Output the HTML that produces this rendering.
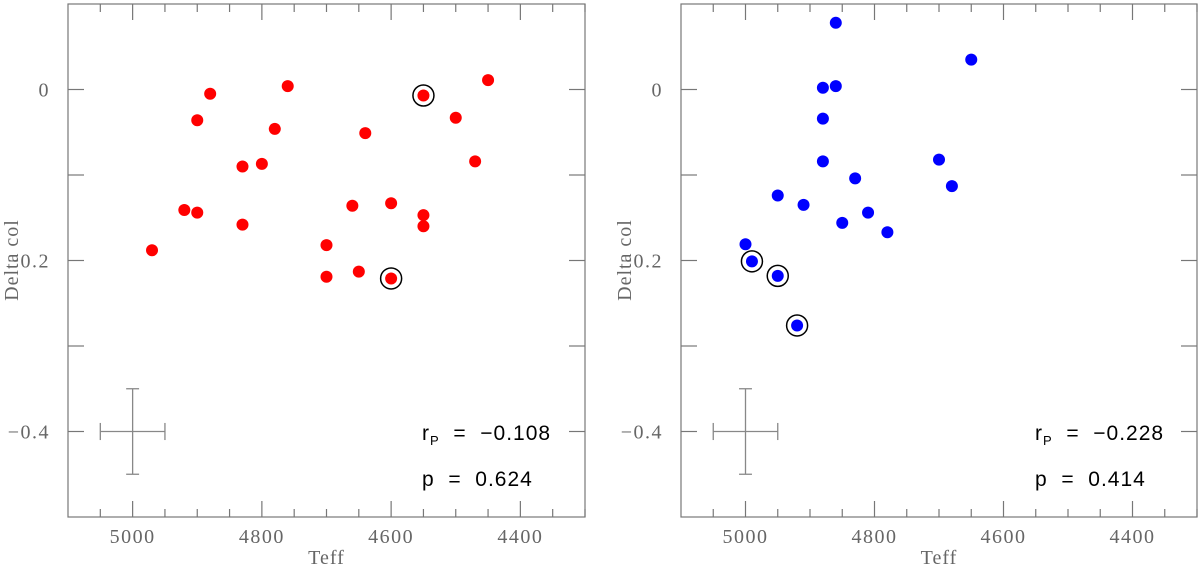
<!DOCTYPE html>
<html><head><meta charset="utf-8"><style>
body{margin:0;background:#fff}
svg text.serif{font-family:"Liberation Serif",serif}
svg text.sans{font-family:"Liberation Sans",sans-serif}
</style></head><body>
<svg id="c" width="1200" height="571" xmlns="http://www.w3.org/2000/svg"></svg>
<script>
const leftT=[4970,4920,4900,4900,4880,4830,4830,4800,4780,4760,4700,4700,4660,4650,4640,4600,4600,4550,4550,4550,4500,4470,4450];
const leftD=[-0.188,-0.141,-0.144,-0.036,-0.005,-0.090,-0.158,-0.087,-0.046,0.004,-0.182,-0.219,-0.136,-0.213,-0.051,-0.133,-0.221,-0.147,-0.160,-0.007,-0.033,-0.084,0.011];
const leftCircled=[16,19];
const rightT=[5000,4990,4950,4950,4920,4910,4880,4880,4880,4860,4860,4850,4830,4810,4780,4700,4680,4650];
const rightD=[-0.181,-0.201,-0.218,-0.124,-0.276,-0.135,0.002,-0.034,-0.084,0.078,0.004,-0.156,-0.104,-0.144,-0.167,-0.082,-0.113,0.035];
const rightCircled=[1,2,4];
const xTickLabels=[5000,4800,4600,4400];
const yTickLabels=[0,-0.2,-0.4];
const stats=[["−0.108","0.624"],["−0.228","0.414"]];
const NS="http://www.w3.org/2000/svg";
const svg=document.getElementById('c');
function mk(tag,attrs,parent){const e=document.createElementNS(NS,tag);for(const k in attrs)e.setAttribute(k,attrs[k]);(parent||svg).appendChild(e);return e;}
function panel(idx,x0,x1,T,D,circ,color){
  const y0=4,y1=517;
  const g=mk('g',{});
  
  
  const sx=t=>x0+(5100-t)/800*(x1-x0);
  const sy=d=>y0+(0.1-d)/0.6*(y1-y0);
  const fr=mk('rect',{x:x0,y:y0,width:x1-x0,height:y1-y0,fill:'none',stroke:'#777','stroke-width':1.2},g);
  
  
  for(let t=5050;t>=4300;t-=50){
    const X=sx(t);const L=(t%200===0)?16:8;
    mk('line',{x1:X,y1:y1,x2:X,y2:y1-L,stroke:'#777','stroke-width':1.2},g);
    mk('line',{x1:X,y1:y0,x2:X,y2:y0+L,stroke:'#777','stroke-width':1.2},g);
  }
  for(let k=1;k<=5;k++){
    const d=0.1-k*0.1;const Y=sy(d);
    mk('line',{x1:x0,y1:Y,x2:x0+16,y2:Y,stroke:'#777','stroke-width':1.2},g);
    mk('line',{x1:x1,y1:Y,x2:x1-16,y2:Y,stroke:'#777','stroke-width':1.2},g);
  }
  xTickLabels.forEach(t=>{const e=mk('text',{class:'serif',x:sx(t),y:y1+26,'text-anchor':'middle','font-size':20,'letter-spacing':1.5,fill:'#666'},g);e.textContent=t;
    });
  yTickLabels.forEach(d=>{const e=mk('text',{class:'serif',x:x0-18,y:sy(d)+7,'text-anchor':'end','font-size':20,'letter-spacing':1.5,fill:'#666'},g);e.textContent=d===0?'0':('−'+Math.abs(d));
    });
  const xl=mk('text',{class:'serif',x:(x0+x1)/2,y:564,'text-anchor':'middle','font-size':20,'letter-spacing':1,fill:'#666'},g);xl.textContent='Teff';
  
  const yl=mk('text',{class:'serif',x:0,y:0,'text-anchor':'middle','font-size':20,'letter-spacing':1,fill:'#666',transform:`translate(${x0-50},260) rotate(-90)`},g);yl.textContent='Delta col';
  
  const eg=mk('g',{stroke:'#888','stroke-width':1.3},g);
  
  mk('line',{x1:sx(5050),y1:sy(-0.4),x2:sx(4950),y2:sy(-0.4)},eg);
  mk('line',{x1:sx(5000),y1:sy(-0.35),x2:sx(5000),y2:sy(-0.45)},eg);
  mk('line',{x1:sx(5050),y1:sy(-0.39),x2:sx(5050),y2:sy(-0.41)},eg);
  mk('line',{x1:sx(4950),y1:sy(-0.39),x2:sx(4950),y2:sy(-0.41)},eg);
  mk('line',{x1:sx(5010),y1:sy(-0.35),x2:sx(4990),y2:sy(-0.35)},eg);
  mk('line',{x1:sx(5010),y1:sy(-0.45),x2:sx(4990),y2:sy(-0.45)},eg);
  T.forEach((t,i)=>{
    if(circ.includes(i)){const r=mk('circle',{cx:sx(t),cy:sy(D[i]),r:10.5,fill:'none',stroke:'#000','stroke-width':1.5},g);
      }
    const c=mk('circle',{cx:sx(t),cy:sy(D[i]),r:6,fill:color},g);
    
  });
  const s1=mk('text',{class:'sans',x:x0+354,y:440,'font-size':21,'letter-spacing':1,fill:'#000'},g);
  s1.innerHTML='r<tspan font-size="13" dy="5">P</tspan><tspan dy="-5">\u00a0\u00a0=\u00a0\u00a0'+stats[idx][0]+'</tspan>';
  
  const s2=mk('text',{class:'sans',x:x0+354,y:486,'font-size':21,'letter-spacing':1,fill:'#000'},g);
  s2.textContent='p\u00a0\u00a0=\u00a0\u00a0'+stats[idx][1];
  
}
panel(0,68,585,leftT,leftD,leftCircled,'#ff0000');
panel(1,681,1197,rightT,rightD,rightCircled,'#0000ff');
</script>
</body></html>
